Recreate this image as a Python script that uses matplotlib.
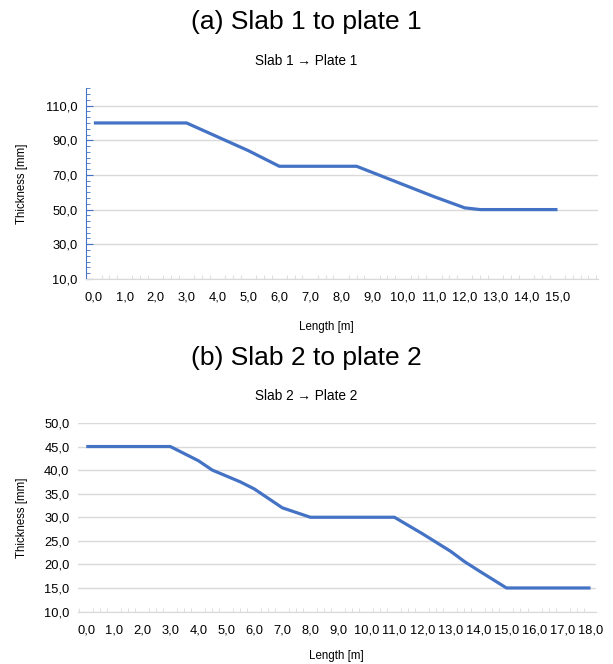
import matplotlib
matplotlib.use("Agg")
import matplotlib.pyplot as plt
from matplotlib.ticker import MultipleLocator, FuncFormatter

plt.rcParams['font.family'] = ['Liberation Sans', 'DejaVu Sans']

# slab 1 -> plate 1
len_1 = [0.0, 3.0, 4.0, 5.0, 6.0, 8.5, 9.0, 10.0, 11.0, 12.0, 12.5, 15.0]
thick_1 = [100, 100, 92, 84, 75, 75, 71.5, 64.5, 57.5, 51, 50, 50]

# slab 2 -> plate 2
len_2 = [0.0, 3.0, 4.0, 4.5, 5.5, 6.0, 7.0, 8.0, 11.0, 12.0, 13.0, 13.5, 14.0, 15.0, 18.0]
thick_2 = [45, 45, 42, 40, 37.5, 36, 32, 30, 30, 26.5, 22.8, 20.6, 18.7, 15, 15]

blue = '#4472C4'
grid_c = '#d9d9d9'
comma = FuncFormatter(lambda v, p: f"{v:.1f}".replace('.', ','))

fig = plt.figure(figsize=(6.13, 6.64), dpi=100)

def style(ax, xmax_tick):
    ax.xaxis.set_major_locator(MultipleLocator(1))
    ax.xaxis.set_minor_locator(MultipleLocator(0.25))
    ax.xaxis.set_major_formatter(comma)
    ax.yaxis.set_major_formatter(comma)
    ax.tick_params(axis='x', which='both', direction='in', color=grid_c,
                   labelsize=9.3, pad=9)
    ax.tick_params(axis='x', which='major', length=0)
    ax.tick_params(axis='x', which='minor', length=3)
    ax.tick_params(axis='y', labelsize=9.3)
    for s in ['top', 'right']:
        ax.spines[s].set_visible(False)
    ax.spines['bottom'].set_color(grid_c)
    ax.grid(axis='y', color=grid_c, linewidth=1)
    ax.set_axisbelow(True)
    ax.set_xticks([t for t in range(0, xmax_tick + 1)])

# (a)
ax1 = fig.add_axes([0.140, 0.580, 0.835, 0.287])
ax1.plot(len_1, thick_1, color=blue, linewidth=2.3, solid_capstyle='butt',
         solid_joinstyle='round')
ax1.set_xlim(-0.26, 16.3)
ax1.set_ylim(10, 120)
style(ax1, 15)
ax1.set_yticks([10, 30, 50, 70, 90, 110])
ax1.yaxis.set_minor_locator(MultipleLocator(20 / 6))
ax1.spines['left'].set_color(blue)
ax1.tick_params(axis='y', which='both', direction='in', color=blue)
ax1.tick_params(axis='y', which='major', length=5, pad=6)
ax1.tick_params(axis='y', which='minor', length=3)
ax1.set_ylabel('Thickness [mm]', fontsize=8.3)
ax1.set_xlabel('Length [m]', fontsize=8.3)
ax1.yaxis.set_label_coords(-0.113, 0.5)
ax1.xaxis.set_label_coords(0.47, -0.222)

# (b)
ax2 = fig.add_axes([0.127, 0.079, 0.8455, 0.284])
ax2.plot(len_2, thick_2, color=blue, linewidth=2.3, solid_capstyle='butt',
         solid_joinstyle='round')
ax2.set_xlim(-0.3, 18.2)
ax2.set_ylim(10, 50)
style(ax2, 18)
ax2.yaxis.set_major_locator(MultipleLocator(5))
ax2.spines['left'].set_visible(False)
ax2.tick_params(axis='y', which='both', length=0, pad=6)
ax2.set_ylabel('Thickness [mm]', fontsize=8.3)
ax2.set_xlabel('Length [m]', fontsize=8.3)
ax2.yaxis.set_label_coords(-0.097, 0.5)
ax2.xaxis.set_label_coords(0.498, -0.205)

fig.text(0.5, 1 - 22 / 664, '(a) Slab 1 to plate 1', ha='center', va='center', fontsize=19)
fig.text(0.5, 1 - 61 / 664, 'Slab 1 \u2192 Plate 1', ha='center', va='center', fontsize=9.8)
fig.text(0.5, 1 - 358 / 664, '(b) Slab 2 to plate 2', ha='center', va='center', fontsize=19)
fig.text(0.5, 1 - 396 / 664, 'Slab 2 \u2192 Plate 2', ha='center', va='center', fontsize=9.8)

fig.savefig('out.png', dpi=100)
